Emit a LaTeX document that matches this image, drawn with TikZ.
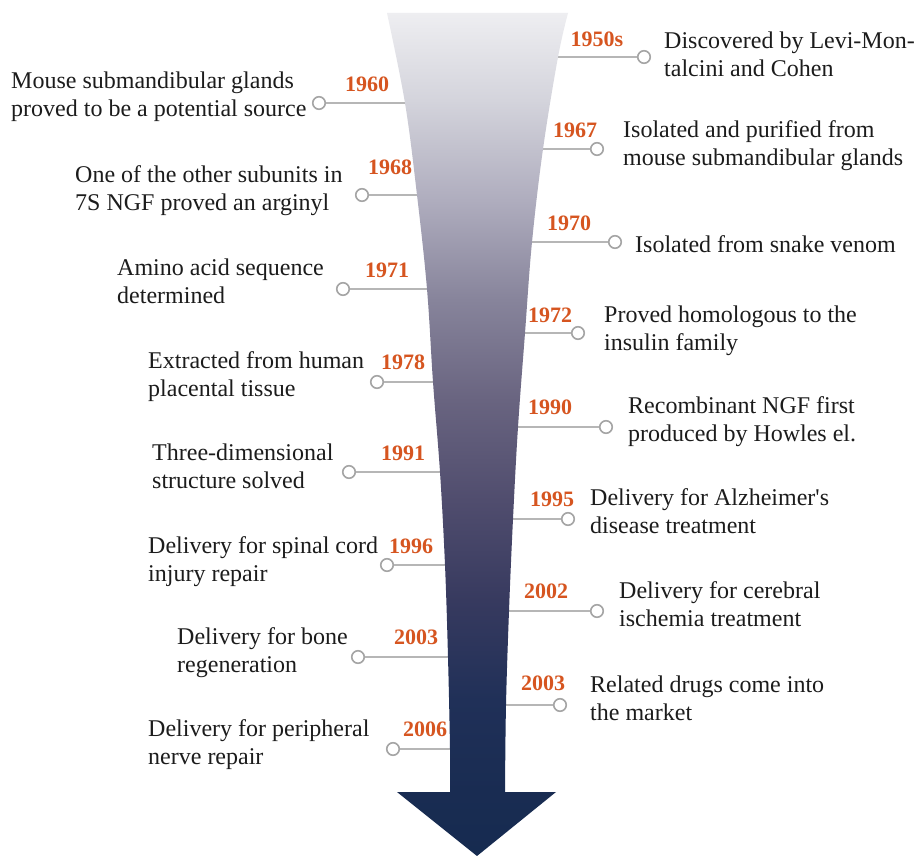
\documentclass[tikz,border=0pt]{standalone}
\usepackage{fontspec}
\setmainfont{Liberation Serif}
\definecolor{yearc}{RGB}{214,85,32}
\definecolor{connc}{RGB}{182,182,182}
\definecolor{dotc}{RGB}{165,165,165}
\definecolor{txtc}{RGB}{28,28,28}
\definecolor{s0}{RGB}{22,43,80}
\definecolor{s1}{RGB}{25,44,82}
\definecolor{s2}{RGB}{32,48,88}
\definecolor{s3}{RGB}{55,58,95}
\definecolor{s4}{RGB}{80,77,110}
\definecolor{s5}{RGB}{105,100,128}
\definecolor{s6}{RGB}{135,132,155}
\definecolor{s7}{RGB}{175,173,190}
\definecolor{s8}{RGB}{212,212,220}
\definecolor{s9}{RGB}{238,238,241}
\pgfdeclareverticalshading{funnelshade}{100bp}{%
  color(0bp)=(s0); color(25bp)=(s0); color(28.8bp)=(s1); color(34.25bp)=(s2);
  color(40.18bp)=(s3); color(46.11bp)=(s4); color(52.05bp)=(s5);
  color(57.98bp)=(s6); color(63.91bp)=(s7); color(69.84bp)=(s8);
  color(75bp)=(s9); color(100bp)=(s9)}
\begin{document}
\begin{tikzpicture}[x=1pt,y=-1pt,
  dot/.style={circle,draw=dotc,line width=1.6pt,fill=white,minimum size=12.5pt,inner sep=0pt},
  conn/.style={draw=connc,line width=1.8pt},
  yr/.style={font=\fontsize{22}{26}\selectfont\bfseries,text=yearc,anchor=base,inner sep=0pt},
  desc/.style={font=\fontsize{24}{28}\selectfont,text=txtc,align=left,anchor=north west,inner sep=0pt}]
\useasboundingbox[fill=white] (0,0) rectangle (919,856);

% dots (right)
\node[dot] (cR1) at (644,57) {};
\node[dot] (cR2) at (597,149) {};
\node[dot] (cR3) at (615,242) {};
\node[dot] (cR4) at (578,333) {};
\node[dot] (cR5) at (606,427) {};
\node[dot] (cR6) at (568,519) {};
\node[dot] (cR7) at (597,611) {};
\node[dot] (cR8) at (560,705) {};
% dots (left)
\node[dot] (cL1) at (319,103) {};
\node[dot] (cL2) at (362,195) {};
\node[dot] (cL3) at (343,289) {};
\node[dot] (cL4) at (377,382) {};
\node[dot] (cL5) at (349,472) {};
\node[dot] (cL6) at (387,565) {};
\node[dot] (cL7) at (358,657) {};
\node[dot] (cL8) at (393,749) {};

% edge points
\coordinate (eR1) at (552,57);
\coordinate (eR2) at (538,149);
\coordinate (eR3) at (527,242);
\coordinate (eR4) at (520,333);
\coordinate (eR5) at (513,427);
\coordinate (eR6) at (508,519);
\coordinate (eR7) at (504,611);
\coordinate (eR8) at (500,705);
\coordinate (eL1) at (410,103);
\coordinate (eL2) at (422,195);
\coordinate (eL3) at (432,289);
\coordinate (eL4) at (438,382);
\coordinate (eL5) at (445,472);
\coordinate (eL6) at (450,565);
\coordinate (eL7) at (453,657);
\coordinate (eL8) at (455,749);

\foreach \s in {R1,R2,R3,R4,R5,R6,R7,R8,L1,L2,L3,L4,L5,L6,L7,L8}
  \draw[conn] (e\s) -- (c\s);

% funnel arrow
\path[shading=funnelshade]
  plot[smooth,tension=0.6] coordinates {(387,13) (405,103) (417,195) (427,289) (433,382) (440,472) (445,565) (448,657) (450,749) (450,792)}
  -- (397,792) -- (477,856) -- (556,792) -- (505,792)
  -- plot[smooth,tension=0.6] coordinates {(505,792) (506,705) (509,611) (513,519) (518,427) (525,333) (532,242) (543,149) (558,57) (568,13)}
  -- cycle;

% years right
\node[yr] (yR1) at (597,47) {1950s};
\node[yr] (yR2) at (575,138) {1967};
\node[yr] (yR3) at (569,230) {1970};
\node[yr] (yR4) at (550,322) {1972};
\node[yr] (yR5) at (550,414) {1990};
\node[yr] (yR6) at (552,506) {1995};
\node[yr] (yR7) at (546,598) {2002};
\node[yr] (yR8) at (543,690) {2003};
% years left
\node[yr] (yL1) at (367,92) {1960};
\node[yr] (yL2) at (390,175) {1968};
\node[yr] (yL3) at (387,277) {1971};
\node[yr] (yL4) at (403,369) {1978};
\node[yr] (yL5) at (403,460) {1991};
\node[yr] (yL6) at (411,553) {1996};
\node[yr] (yL7) at (416,644) {2003};
\node[yr] (yL8) at (425,736) {2006};

% texts right (top = first baseline - 19.6)
\node[desc] (tR1) at (664,28.4) {\strut Discovered by Levi-Mon-\\talcini and Cohen};
\node[desc] (tR2) at (623,117.4) {\strut Isolated and purified from\\mouse submandibular glands};
\node[desc] (tR3) at (635,232.4) {\strut Isolated from snake venom};
\node[desc] (tR4) at (604,302.4) {\strut Proved homologous to the\\insulin family};
\node[desc] (tR5) at (628,393.4) {\strut Recombinant NGF first\\produced by Howles el.};
\node[desc] (tR6) at (590,485.4) {\strut Delivery for Alzheimer\textquotesingle s\\disease treatment};
\node[desc] (tR7) at (619,578.4) {\strut Delivery for cerebral\\ischemia treatment};
\node[desc] (tR8) at (590,672.4) {\strut Related drugs come into\\the market};
% texts left
\node[desc] (tL1) at (11,68.4) {\strut Mouse submandibular glands\\proved to be a potential source};
\node[desc] (tL2) at (75,162.4) {\strut One of the other subunits in\\7S NGF proved an arginyl};
\node[desc] (tL3) at (117,255.4) {\strut Amino acid sequence\\determined};
\node[desc] (tL4) at (148,348.4) {\strut Extracted from human\\placental tissue};
\node[desc] (tL5) at (152,440.4) {\strut Three-dimensional\\structure solved};
\node[desc] (tL6) at (148,533.4) {\strut Delivery for spinal cord\\injury repair};
\node[desc] (tL7) at (177,624.4) {\strut Delivery for bone\\regeneration};
\node[desc] (tL8) at (148,716.4) {\strut Delivery for peripheral\\nerve repair};
\end{tikzpicture}
\end{document}
